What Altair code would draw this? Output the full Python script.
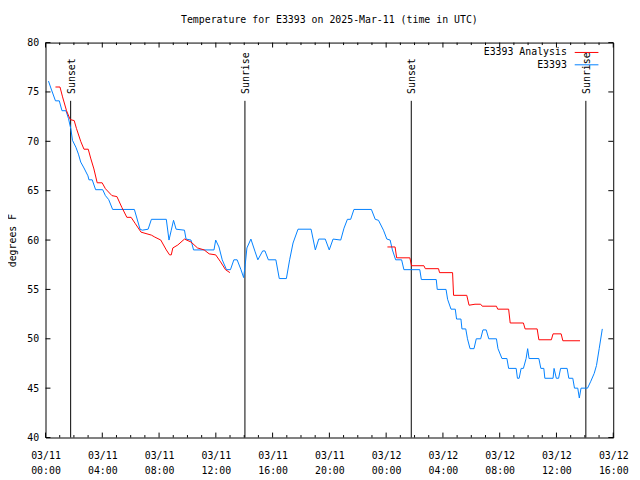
import altair as alt
import pandas as pd

# ---------------- data (hours since 2025-03-11 00:00 UTC, degrees F) ----------------
blue_h = [0.21, 0.40, 0.70, 0.97, 1.16, 1.44, 1.62, 1.79, 1.90, 2.14,
          2.32, 2.48, 2.71, 2.99, 3.06, 3.29, 3.53, 4.03, 4.22, 4.45,
          4.73, 6.26, 6.66, 6.82, 7.23, 7.46, 8.51, 8.70, 8.86, 9.02,
          9.20, 9.79, 9.90, 10.25, 10.43, 11.87, 11.99, 12.22, 12.45, 12.75,
          13.03, 13.27, 13.50, 13.77, 13.96, 14.07, 14.19, 14.47, 14.77, 14.96,
          15.30, 15.46, 15.70, 16.23, 16.47, 16.97, 17.20, 17.44, 17.79, 18.71,
          19.01, 19.25, 19.71, 19.99, 20.26, 20.80, 21.03, 21.27, 21.50, 21.73,
          22.96, 23.23, 23.46, 23.81, 24.05, 24.28, 24.44, 24.67, 25.09, 25.25,
          26.37, 26.48, 27.53, 27.60, 28.22, 28.33, 28.57, 28.87, 28.96, 29.27,
          29.34, 29.61, 29.73, 29.91, 30.19, 30.35, 30.66, 30.82, 31.05, 31.23,
          31.77, 31.88, 32.16, 32.51, 32.63, 33.16, 33.25, 33.37, 33.51, 33.67,
          33.86, 33.97, 34.07, 34.76, 34.90, 35.11, 35.18, 35.76, 35.83, 35.99,
          36.15, 36.29, 36.75, 36.87, 37.15, 37.27, 37.50, 37.61, 37.73, 38.19,
          38.42, 38.66, 38.82, 39.01, 39.23]
blue_t = [76.1, 75.3, 74.1, 74.1, 73.1, 73.1, 72.3, 71.2, 70.1, 69.4,
          68.7, 67.9, 67.3, 66.5, 66.1, 66.1, 65.1, 65.1, 64.5, 64.1,
          63.1, 63.1, 61.1, 61.0, 61.1, 62.1, 62.1, 60.0, 61.0, 62.0,
          61.1, 61.0, 60.1, 60.0, 59.0, 59.0, 60.0, 59.3, 58.0, 57.0,
          57.0, 58.0, 58.0, 57.0, 56.2, 57.5, 59.2, 60.1, 58.8, 58.0,
          58.9, 58.9, 58.0, 58.0, 56.1, 56.1, 58.0, 59.7, 61.1, 61.1,
          59.0, 60.1, 60.1, 59.0, 60.1, 60.0, 61.2, 62.1, 62.1, 63.1,
          63.1, 62.1, 62.0, 61.0, 60.1, 60.0, 59.0, 58.0, 58.0, 57.0,
          57.0, 56.0, 56.0, 55.0, 55.0, 54.0, 53.0, 53.0, 52.0, 52.0,
          51.0, 51.0, 50.0, 49.0, 49.0, 50.0, 50.0, 50.9, 50.9, 50.0,
          50.0, 49.0, 48.0, 48.0, 47.0, 47.0, 46.0, 46.0, 47.0, 47.0,
          48.0, 49.0, 48.0, 48.0, 47.0, 47.0, 46.0, 46.0, 47.0, 46.0,
          46.0, 47.0, 47.0, 46.0, 46.0, 45.0, 45.0, 44.0, 45.0, 45.0,
          45.7, 46.5, 47.3, 49.0, 51.0]

red1_h = [0.70, 1.02, 1.20, 1.48, 1.74, 2.02, 2.18, 2.48, 2.71, 3.01,
          3.18, 3.41, 3.64, 3.99, 4.22, 4.68, 5.03, 5.38, 5.73, 6.03,
          6.31, 6.73, 7.46, 7.70, 8.12, 8.51, 8.74, 8.86, 8.97, 9.32,
          9.79, 10.25, 10.71, 11.18, 11.53, 11.99, 12.33, 12.68, 12.99]
red1_t = [75.5, 75.5, 74.5, 73.1, 72.2, 72.1, 71.3, 70.0, 69.2, 69.2,
          68.3, 67.2, 65.8, 65.8, 65.2, 64.5, 64.4, 63.3, 62.3, 62.3,
          61.7, 60.8, 60.5, 60.3, 60.0, 59.0, 58.5, 58.5, 59.2, 59.5,
          60.1, 59.8, 59.2, 59.0, 58.6, 58.5, 57.8, 57.0, 56.7]
red2_h = [24.09, 24.63, 24.74, 25.67, 25.79, 26.66, 26.76, 27.69, 27.76, 28.68,
          28.75, 29.68, 29.84, 30.26, 30.66, 30.77, 31.77, 31.86, 32.63, 32.74,
          33.67, 33.79, 34.64, 34.76, 35.64, 35.76, 36.33, 36.45, 37.66]
red2_t = [59.3, 59.3, 58.2, 58.2, 57.4, 57.4, 57.1, 57.1, 56.7, 56.7,
          54.4, 54.4, 53.4, 53.5, 53.5, 53.3, 53.3, 53.0, 53.0, 51.6,
          51.6, 51.0, 51.0, 49.9, 49.9, 50.5, 50.5, 49.8, 49.8]

series_names = ["E3393 Analysis", "E3393"]
series_colors = ["#ff0000", "#0080ff"]

sun_events = ["Sunset", "Sunrise", "Sunset", "Sunrise"]
sun_h = [1.77, 14.05, 25.77, 38.07]

x_major = list(range(0, 41, 4))
x_minor = [h for h in range(0, 41) if h % 4 != 0]
y_major = list(range(40, 81, 5))

title_text = "Temperature for E3393 on 2025-Mar-11 (time in UTC)"
y_title = "degrees F"

# ---------------- build ----------------
W, H = 575, 400
FONT = "DejaVu Sans Mono"

rows = []
for h, t in zip(blue_h, blue_t):
    rows.append({"h": h, "t": t, "series": series_names[1], "seg": "b"})
for h, t in zip(red1_h, red1_t):
    rows.append({"h": h, "t": t, "series": series_names[0], "seg": "r1"})
for h, t in zip(red2_h, red2_t):
    rows.append({"h": h, "t": t, "series": series_names[0], "seg": "r2"})
df = pd.DataFrame(rows)

x_scale = alt.Scale(domain=[0, 40], nice=False, zero=False)
y_scale = alt.Scale(domain=[40, 80], nice=False, zero=False)

x_axis = alt.Axis(
    values=x_major,
    labelExpr="[datum.value < 24 ? '03/11' : '03/12', (datum.value % 24 < 10 ? '0' : '') + (datum.value % 24) + ':00']",
    labelFont=FONT, labelFontSize=10, labelColor="black", labelLineHeight=15,
    labelPadding=13, labelFlush=False, labelOverlap=False,
    ticks=False, domain=False, grid=False, title=None,
)
y_axis = alt.Axis(
    values=y_major, labelFont=FONT, labelFontSize=10, labelColor="black",
    labelPadding=7, ticks=False, domain=False, grid=False,
    title=y_title, titleFont=FONT, titleFontSize=10, titleFontWeight="normal",
    titleColor="black", titleX=-33, titleY=200, titleAngle=270,
    titleAlign="center", titleBaseline="middle",
)


def X(field="h"):
    return alt.X(f"{field}:Q", scale=x_scale, axis=x_axis)


def Y(field="t"):
    return alt.Y(f"{field}:Q", scale=y_scale, axis=y_axis)


lines = alt.Chart(df).mark_line(strokeWidth=1, interpolate="linear").encode(
    x=X(), y=Y(),
    color=alt.Color("series:N", scale=alt.Scale(domain=series_names, range=series_colors), legend=None),
    detail="seg:N",
)

sun_df = pd.DataFrame({"h": sun_h, "event": sun_events})
sun_lines = alt.Chart(sun_df).mark_rule(color="black", strokeWidth=1).encode(
    x=X(), y=alt.value(59), y2=alt.value(H)
)
sun_text = alt.Chart(sun_df).mark_text(
    angle=270, align="left", baseline="middle", font=FONT, fontSize=10, color="black", dy=1
).encode(x=X(), y=alt.value(52), text="event:N")

xmaj = pd.DataFrame({"h": x_major})
xmin = pd.DataFrame({"h": x_minor})
ymaj = pd.DataFrame({"t": y_major})
tick_layers = [
    alt.Chart(xmaj).mark_rule(color="black").encode(x=X(), y=alt.value(H), y2=alt.value(H - 5)),
    alt.Chart(xmaj).mark_rule(color="black").encode(x=X(), y=alt.value(0), y2=alt.value(5)),
    alt.Chart(xmin).mark_rule(color="black").encode(x=X(), y=alt.value(H), y2=alt.value(H - 2.5)),
    alt.Chart(xmin).mark_rule(color="black").encode(x=X(), y=alt.value(0), y2=alt.value(2.5)),
    alt.Chart(ymaj).mark_rule(color="black").encode(y=Y(), x=alt.value(0), x2=alt.value(5)),
    alt.Chart(ymaj).mark_rule(color="black").encode(y=Y(), x=alt.value(W), x2=alt.value(W - 5)),
]

legend_layers = []
for i, (name, col) in enumerate(zip(series_names, series_colors)):
    ly = 10 + 12.5 * i
    ldf = pd.DataFrame({"name": [name]})
    legend_layers.append(
        alt.Chart(ldf).mark_text(align="right", baseline="middle", font=FONT, fontSize=10, color="black")
        .encode(x=alt.value(528), y=alt.value(ly), text="name:N")
    )
    legend_layers.append(
        alt.Chart(ldf).mark_rule(color=col, strokeWidth=1)
        .encode(x=alt.value(536), x2=alt.value(560), y=alt.value(ly))
    )

chart = alt.layer(
    *tick_layers, sun_lines, lines, sun_text, *legend_layers
).properties(
    width=W, height=H,
    title=alt.TitleParams(title_text, font=FONT, fontSize=10, fontWeight="normal",
                          anchor="middle", offset=13, color="black"),
    autosize=alt.AutoSizeParams(type="none"),
    padding={"left": 38, "top": 32, "right": 19, "bottom": 40},
    background="white",
).configure_view(stroke="black", strokeWidth=1)

chart.save("out.html", embed_options={"renderer": "svg", "actions": False})
